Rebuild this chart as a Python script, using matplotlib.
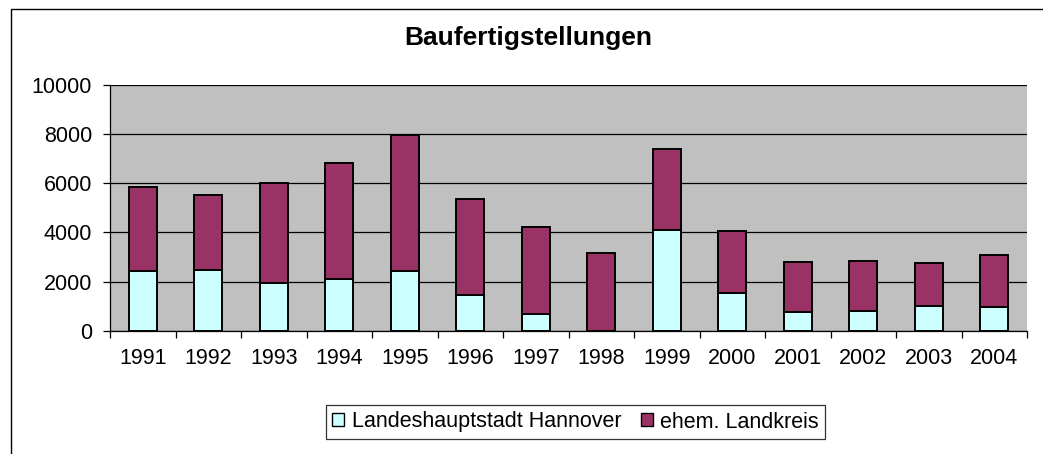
import matplotlib
matplotlib.use("Agg")
import matplotlib.pyplot as plt
from matplotlib.patches import Rectangle, Patch
import numpy as np

plt.rcParams['font.family'] = ['Liberation Sans', 'DejaVu Sans']

years = ['1991', '1992', '1993', '1994', '1995', '1996', '1997', '1998',
         '1999', '2000', '2001', '2002', '2003', '2004']
hannover = [2420, 2470, 1930, 2100, 2420, 1450, 700, 0, 4120, 1530, 790, 810, 1030, 960]
landkreis = [3410, 3040, 4070, 4710, 5540, 3900, 3520, 3180, 3270, 2540, 2030, 2020, 1730, 2140]
series_names = ['Landeshauptstadt Hannover', 'ehem. Landkreis']
title = 'Baufertigstellungen'
yticks = [0, 2000, 4000, 6000, 8000, 10000]

W, H = 1043, 454
fig = plt.figure(figsize=(W / 100, H / 100), dpi=100)

# outer chart frame (extends past the image on right/bottom)
fig.patches.append(Rectangle((10.5 / W, -0.1), 1.2, 1 - 9.5 / H + 0.1,
                             transform=fig.transFigure, fill=False,
                             edgecolor='black', linewidth=1.0))

left, right, top, bottom = 110, 1027, 84.7, 331
ax = fig.add_axes([left / W, 1 - bottom / H, (right - left) / W, (bottom - top) / H])
ax.set_facecolor('#C0C0C0')

x = np.arange(len(years))
c1, c2 = '#CCFFFF', '#993366'
ax.bar(x, hannover, width=0.43, color=c1, edgecolor='black', linewidth=1.4, zorder=3)
ax.bar(x, landkreis, width=0.43, bottom=hannover, color=c2, edgecolor='black',
       linewidth=1.4, zorder=3)

fs = 15.5
ax.set_xlim(-0.5, len(years) - 0.5)
ax.set_ylim(0, 10000)
ax.set_yticks(yticks)
ax.set_yticklabels([str(v) for v in yticks], fontsize=fs)
ax.yaxis.grid(True, color='black', linewidth=0.9, zorder=1)
ax.set_axisbelow(True)

ax.set_xticks(np.arange(-0.5, len(years), 1.0))
ax.set_xticklabels([])
ax.set_xticks(x, minor=True)
ax.set_xticklabels(years, minor=True, fontsize=fs)
ax.tick_params(axis='x', which='major', direction='out', length=5, width=0.9)
ax.tick_params(axis='x', which='minor', length=0, pad=12)
ax.tick_params(axis='y', direction='out', length=5, width=0.9, pad=8)

for s in ['top', 'right']:
    ax.spines[s].set_visible(False)
for s in ['left', 'bottom']:
    ax.spines[s].set_color('black')
    ax.spines[s].set_linewidth(0.9)

fig.text(528 / W, 1 - 38 / H, title, ha='center', va='center',
         fontsize=19, fontweight='bold')

handles = [Patch(facecolor=c1, edgecolor='black', linewidth=1.0),
           Patch(facecolor=c2, edgecolor='black', linewidth=1.0)]
leg = fig.legend(handles, series_names, loc='center',
                 bbox_to_anchor=(575.5 / W, 1 - 422 / H), ncol=2,
                 fontsize=fs, frameon=True, fancybox=False, shadow=False,
                 handlelength=0.55, handleheight=0.55, handletextpad=0.35,
                 columnspacing=0.9, borderpad=0.3, borderaxespad=0)
leg.get_frame().set_edgecolor('black')
leg.get_frame().set_linewidth(0.9)

fig.savefig('out.png', dpi=100)
